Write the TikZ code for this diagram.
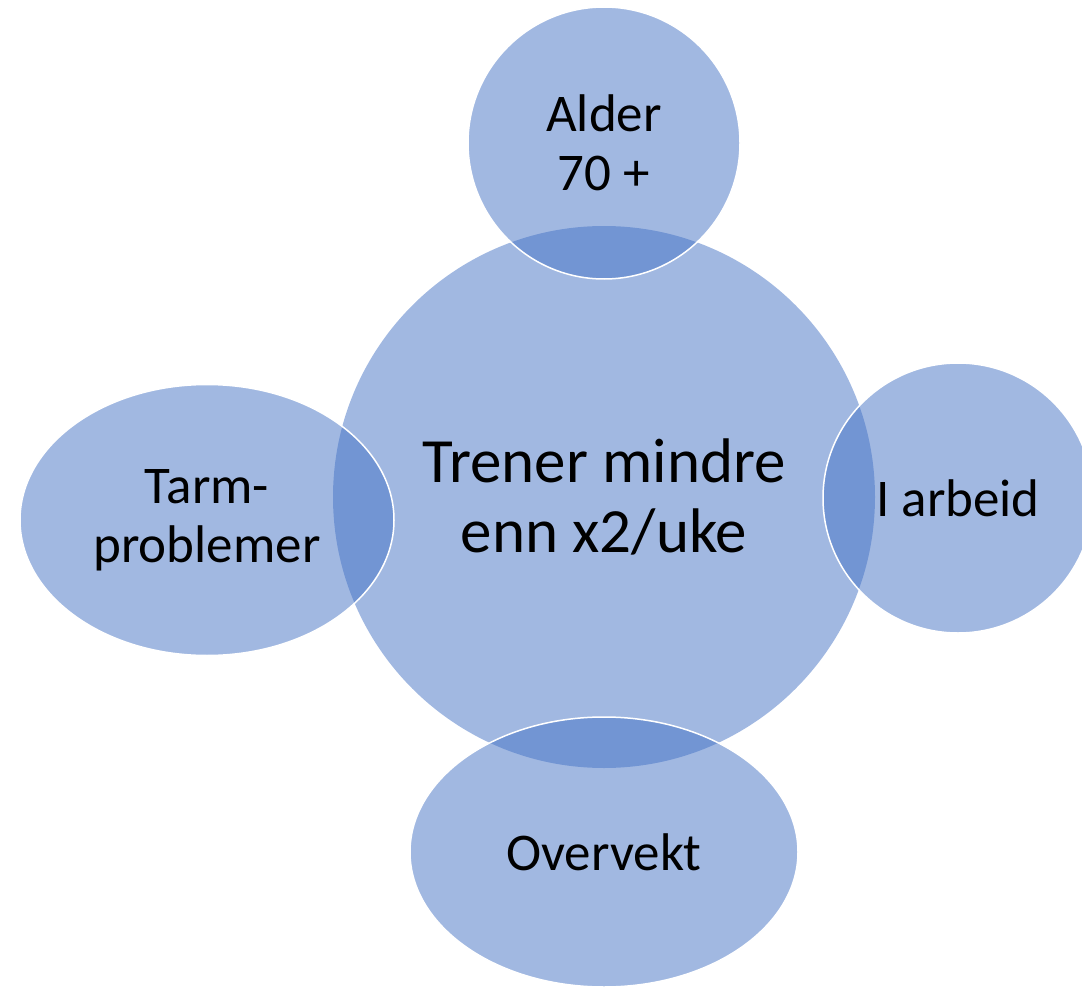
\documentclass[tikz,border=0pt]{standalone}
\usepackage{fontspec}
\setmainfont{Carlito}
\usetikzlibrary{shapes.geometric}
\definecolor{venblue}{RGB}{68, 114, 196}

\begin{document}
\begin{tikzpicture}[
      x=1pt, y=-1pt,
      hub/.style={circle, fill=venblue, fill opacity=0.5, text opacity=1, inner sep=0pt, minimum size=542pt, align=center, font=\fontsize{63}{70}\selectfont},
      sat/.style={ellipse, fill=venblue, fill opacity=0.5, text opacity=1, draw=white, draw opacity=1, line width=1.5pt, inner sep=0pt, align=center, font=\fontsize{53}{59}\selectfont}
    ]
      \useasboundingbox (0, 0) rectangle (1082, 987);

      \node[hub] (H) at (604, 497) {Trener mindre\\enn x2/uke};

      \node[sat, minimum width=272pt, minimum height=272pt] (A) at (604, 143) {Alder\\70 +};
      \node[sat, minimum width=270pt, minimum height=270pt] (W) at (958, 498) {I arbeid};
      \node[sat, minimum width=388pt, minimum height=270pt] (O) at (604, 852) {Overvekt};
      \node[sat, minimum width=374pt, minimum height=271pt] (T) at (207, 520) {Tarm-\\problemer};
    \end{tikzpicture}
\end{document}
